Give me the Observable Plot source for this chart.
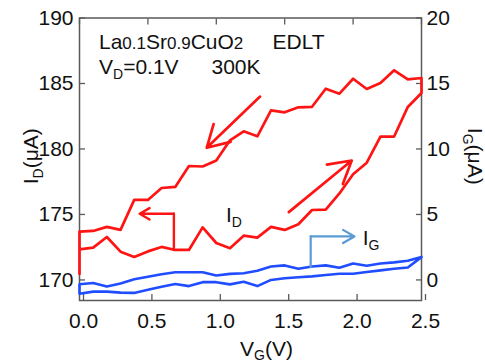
<!DOCTYPE html>
<html><head><meta charset="utf-8">
<script src="https://cdn.jsdelivr.net/npm/d3@7"></script>
<script src="https://cdn.jsdelivr.net/npm/@observablehq/plot@0.6"></script>
<style>
body{margin:0;background:#fff}
#chart svg{display:block}
</style>
</head><body><div id="chart"></div>
<script>
// ---- data ----
const vg = [0.0,0.1,0.2,0.3,0.4,0.5,0.6,0.7,0.8,0.9,1.0,1.1,1.2,1.3,1.4,1.5,1.6,1.7,1.8,1.9,2.0,2.1,2.2,2.3,2.4,2.5];
const idStart = 170.46;
const idForward = [172.34,172.47,173.28,172.16,171.76,172.18,172.52,172.29,172.29,174.01,172.82,172.42,173.38,173.23,174.05,173.82,174.25,175.34,175.37,176.60,178.07,178.95,180.95,180.95,183.21,184.27];
const idReverse = [173.69,173.74,174.05,173.82,176.11,176.11,177.02,177.10,178.70,178.66,179.12,180.66,181.35,180.97,182.95,182.80,183.18,183.22,184.60,184.22,185.36,184.58,185.04,186.01,185.31,185.42];
const igUpper = [-0.33,-0.23,-0.50,-0.27,0.05,0.25,0.44,0.59,0.59,0.59,0.34,0.46,0.51,0.70,1.02,1.11,0.85,1.03,1.11,0.93,1.26,1.08,1.26,1.34,1.46,1.76];
const igLower = [-1.05,-0.89,-0.89,-0.97,-0.99,-0.75,-0.52,-0.31,-0.47,-0.17,-0.17,-0.34,-0.14,-0.47,0.00,0.13,0.21,0.27,0.38,0.47,0.47,0.60,0.73,0.85,0.95,1.74];
const xTicks = [0.0,0.5,1.0,1.5,2.0,2.5];
const leftTicks = [170,175,180,185,190];
const rightTicks = [0,5,10,15,20];
const igOffset = 170; // right-axis 0 sits at left-axis 170
const sweepArrows = [
  {x1:1.32, y1:184.0, x2:0.93, y2:180.09},
  {x1:1.53, y1:175.18, x2:1.99, y2:179.12}
];
const idPointer = [{x:0.69, y:172.29},{x:0.69, y:175.05},{x:0.44, y:175.05}];
const igPointer = [{x:1.69, y:0.98},{x:1.69, y:3.32},{x:2.01, y:3.32}];
const idLabel = {x:1.07, y:174.41, text:"I_D"};
const igLabel = {x:2.07, y:2.63, text:"I_G"};

// ---- derived tables ----
const redLoop = [{x:0, y:idStart},
  ...vg.map((v,i)=>({x:v, y:idForward[i]})),
  ...vg.map((v,i)=>({x:v, y:idReverse[i]})).reverse(),
  {x:0, y:idForward[0]}];
const blueLoop = [
  ...vg.map((v,i)=>({x:v, y:igLower[i]+igOffset})),
  ...vg.map((v,i)=>({x:v, y:igUpper[i]+igOffset})).reverse(),
  {x:0, y:igLower[0]+igOffset}];
const igPtr = igPointer.map(d=>({x:d.x, y:d.y+igOffset}));

const RED = "#ff1414", BLUE = "#1f4dff", LIGHTBLUE = "#5b9bd5", AX = "#5a5a5a";
const FS = 21;

const chart = Plot.plot({
  width: 485, height: 361,
  marginLeft: 79, marginRight: 64, marginTop: 17.5, marginBottom: 61,
  style: {fontFamily: "Arial, 'Liberation Sans', sans-serif", fontSize: FS+"px", color: "#111", background: "#fff"},
  x: {domain: [0, 2.5]},
  y: {domain: [168.43, 190]},
  marks: [
    Plot.frame({stroke: AX, strokeWidth: 1.5}),
    Plot.axisX(xTicks, {anchor: "bottom", tickSize: -6, tickPadding: 19, dx: 4, stroke: AX, strokeWidth: 1.3, tickFormat: d3.format(".1f"), fontSize: FS, label: null}),
    Plot.axisX(xTicks, {anchor: "top", tickSize: -6, stroke: AX, strokeWidth: 1.3, text: null, tickFormat: () => "", label: null}),
    Plot.axisY(leftTicks, {anchor: "left", tickSize: -6, tickPadding: 12, stroke: AX, strokeWidth: 1.3, fontSize: FS, label: null}),
    Plot.axisY(rightTicks.map(t=>t+igOffset), {anchor: "right", tickSize: -6, tickPadding: 11, stroke: AX, strokeWidth: 1.3, fontSize: FS, tickFormat: d => String(d - igOffset), label: null}),
    Plot.line(redLoop, {x: "x", y: "y", stroke: RED, strokeWidth: 2.7, curve: "linear"}),
    Plot.line(blueLoop, {x: "x", y: "y", stroke: BLUE, strokeWidth: 2.6, curve: "linear"}),
    Plot.arrow(sweepArrows, {x1: "x1", y1: "y1", x2: "x2", y2: "y2", stroke: RED, strokeWidth: 2.7, headLength: 14}),
    Plot.line(idPointer.slice(0,2), {x: "x", y: "y", stroke: RED, strokeWidth: 2.4}),
    Plot.arrow([idPointer], {x1: d=>d[1].x, y1: d=>d[1].y, x2: d=>d[2].x, y2: d=>d[2].y, stroke: RED, strokeWidth: 2.4, headLength: 9}),
    Plot.line(igPtr.slice(0,2), {x: "x", y: "y", stroke: LIGHTBLUE, strokeWidth: 2.2}),
    Plot.arrow([igPtr], {x1: d=>d[1].x, y1: d=>d[1].y, x2: d=>d[2].x, y2: d=>d[2].y, stroke: LIGHTBLUE, strokeWidth: 2.2, headLength: 9}),
    Plot.text([idLabel], {x: "x", y: "y", text: "text", textAnchor: "start", lineAnchor: "bottom", fontSize: FS, fill: "#111"}),
    Plot.text([igLabel], {x: "x", y: d => d.y + igOffset, text: "text", textAnchor: "start", lineAnchor: "bottom", fontSize: FS, fill: "#111"}),
    Plot.text(["La0.1Sr0.9CuO2"], {frameAnchor: "top-left", dx: 19.5, dy: 31, text: d=>d, textAnchor: "start", lineAnchor: "bottom", fontSize: FS, fill: "#111"}),
    Plot.text(["EDLT"], {frameAnchor: "top-left", dx: 193, dy: 31, text: d=>d, textAnchor: "start", lineAnchor: "bottom", fontSize: FS, fill: "#111"}),
    Plot.text(["V_D=0.1V"], {frameAnchor: "top-left", dx: 19.5, dy: 56, text: d=>d, textAnchor: "start", lineAnchor: "bottom", fontSize: FS, fill: "#111"}),
    Plot.text(["300K"], {frameAnchor: "top-left", dx: 132, dy: 56, text: d=>d, textAnchor: "start", lineAnchor: "bottom", fontSize: FS, fill: "#111"}),
    Plot.text(["V_G(V)"], {frameAnchor: "bottom", dx: 16, dy: 55, text: d=>d, textAnchor: "middle", lineAnchor: "bottom", fontSize: FS, fill: "#111"}),
    Plot.text(["I_D(μA)"], {frameAnchor: "left", dx: -42, dy: -3, rotate: -90, text: d=>d, textAnchor: "middle", lineAnchor: "bottom", fontSize: FS, fill: "#111"}),
    Plot.text(["I_G(μA)"], {frameAnchor: "right", dx: 46, dy: -3, rotate: 90, text: d=>d, textAnchor: "middle", lineAnchor: "bottom", fontSize: FS, fill: "#111"})
  ]
});

// rich text: small numerals / subscripts as tspans
const SMALL = 17, SUB = 14;
const rich = {
  "La0.1Sr0.9CuO2": [["La"],["0.1",SMALL],["Sr"],["0.9",SMALL],["CuO"],["2",SMALL]],
  "V_D=0.1V": [["V"],["D",SUB,5],["=0.1V"]],
  "V_G(V)": [["V"],["G",SUB,4],["(V)"]],
  "I_D(μA)": [["I"],["D",SUB,5],["(μA)"]],
  "I_G(μA)": [["I"],["G",SUB,5],["(μA)"]],
  "I_D": [["I"],["D",SUB,5]],
  "I_G": [["I"],["G",SUB,5]]
};
d3.select(chart).selectAll("text").each(function(){
  const t = this.textContent;
  const segs = rich[t];
  if (!segs) return;
  const el = d3.select(this);
  el.text(null);
  let shift = 0;
  for (const [s, size, dy] of segs) {
    const ts = el.append("tspan").text(s);
    if (size) ts.attr("font-size", size);
    const want = dy || 0;
    if (want !== shift) { ts.attr("dy", want - shift); shift = want; }
  }
});

document.getElementById("chart").appendChild(chart);
</script>
</body></html>
